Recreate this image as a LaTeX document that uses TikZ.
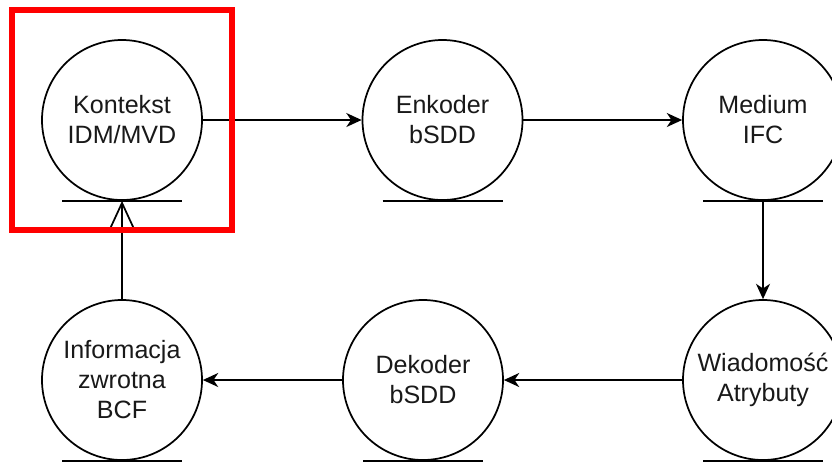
\documentclass[tikz,border=0pt]{standalone}
\usepackage{fontspec}
\setmainfont{Liberation Sans}
\usetikzlibrary{arrows.meta,calc}
\begin{document}
\begin{tikzpicture}[x=0.75pt,y=-0.75pt,
  proc/.style={circle, draw=black, line width=1.3pt, minimum size=120pt,
    inner sep=0pt, align=center, text=black!90,
    font=\fontsize{18.8pt}{22.5pt}\selectfont},
  base/.style={line width=1.5pt},
  flow/.style={line width=1.3pt, -{Stealth[length=11.5pt,width=10.5pt,inset=3.5pt]}},
  back/.style={line width=1.3pt, -{Straight Barb[length=20pt,width=18.5pt,line width=1.3pt]}},
  highlight/.style={draw=red, line width=3.8pt}]
  \useasboundingbox (0,0) rectangle (832,462);
  \clip (0,0) rectangle (832,462);
  \fill[white] (0,0) rectangle (832,462);

  % processes, top row
  \node[proc] (k) at (122,120) {Kontekst\\IDM/MVD};
  \node[proc] (e) at (442.5,120) {Enkoder\\bSDD};
  \node[proc] (m) at (763,120) {Medium\\IFC};
  % processes, bottom row
  \node[proc] (i) at (122,380) {Informacja\\zwrotna\\BCF};
  \node[proc] (d) at (423,380) {Dekoder\\bSDD};
  \node[proc] (w) at (763,380) {Wiadomość\\Atrybuty};

  % ground lines under each process
  \foreach \n in {k,e,m,i,d,w}
    \draw[base] ($(\n.south)+(-60,0)$) -- ($(\n.south)+(60,0)$);

  % flow between the processes
  \draw[flow] (k.east) -- (e.west);
  \draw[flow] (e.east) -- (m.west);
  \draw[flow] (m.south) -- (w.north);
  \draw[flow] (w.west) -- (d.east);
  \draw[flow] (d.west) -- (i.east);
  \draw[back] (i.north) -- (k.south);

  % highlight frame
  \draw[highlight] (12,10) rectangle (232,230);
\end{tikzpicture}
\end{document}
